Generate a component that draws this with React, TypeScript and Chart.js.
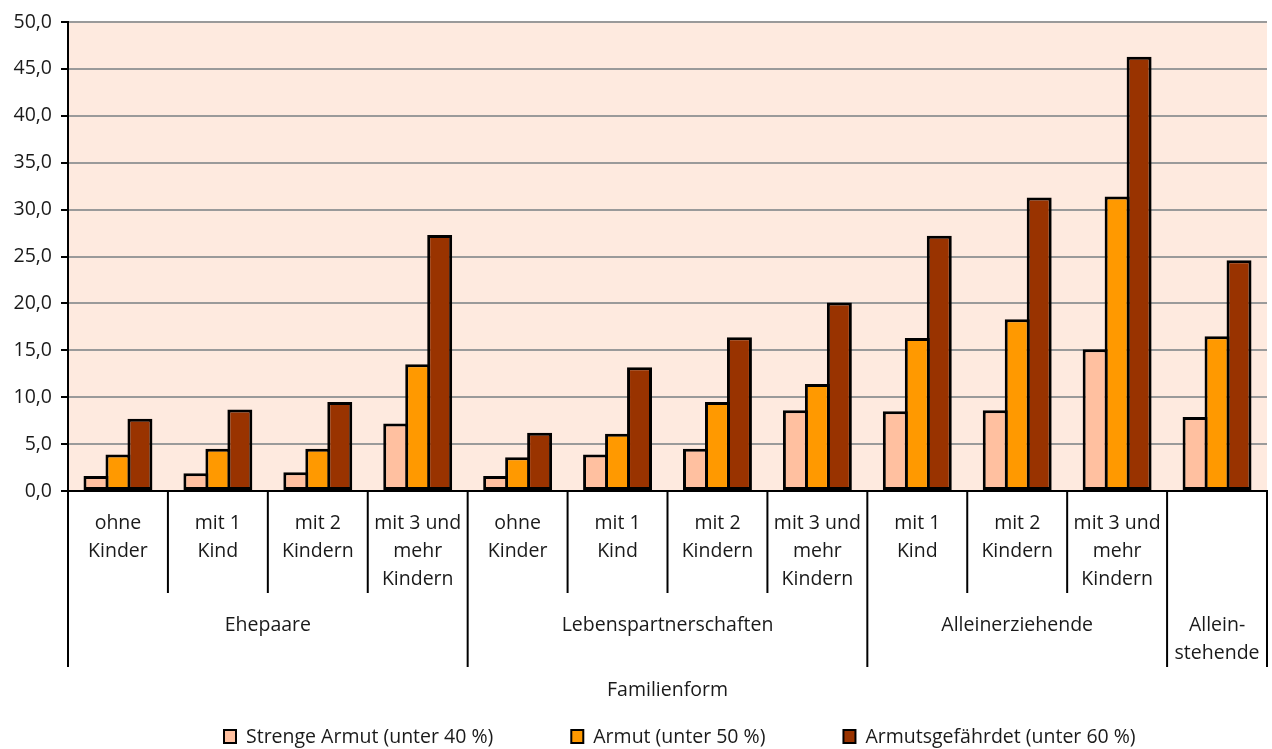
import React, { useEffect, useRef } from "react";
import { Chart, registerables } from "chart.js";

Chart.register(...registerables);

// ---- data ----
const subLabels: string[][] = [
  ["ohne", "Kinder"],
  ["mit 1", "Kind"],
  ["mit 2", "Kindern"],
  ["mit 3 und", "mehr", "Kindern"],
  ["ohne", "Kinder"],
  ["mit 1", "Kind"],
  ["mit 2", "Kindern"],
  ["mit 3 und", "mehr", "Kindern"],
  ["mit 1", "Kind"],
  ["mit 2", "Kindern"],
  ["mit 3 und", "mehr", "Kindern"],
  [],
];
const groupLabels: string[][] = [["Ehepaare"], ["Lebenspartnerschaften"], ["Alleinerziehende"], ["Allein-", "stehende"]];
const groupStarts = [0, 4, 8, 11];
const groupEnds = [3, 7, 10, 11];

const seriesNames = ["Strenge Armut (unter 40 %)", "Armut (unter 50 %)", "Armutsgefährdet (unter 60 %)"];
const strengeArmut = [1.6, 1.9, 2.0, 7.2, 1.6, 3.9, 4.5, 8.6, 8.5, 8.6, 15.1, 7.9];
const armut = [3.9, 4.5, 4.5, 13.5, 3.6, 6.1, 9.5, 11.4, 16.3, 18.3, 31.4, 16.5];
const armutsgefaehrdet = [7.7, 8.7, 9.5, 27.3, 6.2, 13.2, 16.4, 20.1, 27.2, 31.3, 46.3, 24.6];
const axisTitle = "Familienform";

// ---- style ----
const FONT = "'Open Sans', 'Noto Sans', sans-serif";
const FS = 19.5;
const TEXT = "#1a1a1a";
const BG = "#FEEADF";
const COLORS = ["#FFC0A0", "#FF9900", "#993300"];

const decorPlugin = {
  id: "decor",
  beforeDraw(chart: any) {
    const { ctx, chartArea: a } = chart;
    ctx.save();
    ctx.fillStyle = BG;
    ctx.fillRect(a.left, a.top, a.right - a.left, a.bottom - a.top);
    ctx.restore();
  },
  afterDraw(chart: any) {
    const { ctx, chartArea: a } = chart;
    const x = chart.scales.x;
    const n = subLabels.length;
    const step = x.getPixelForValue(1) - x.getPixelForValue(0);
    const boundary = (i: number) =>
      i === 0 ? a.left : i === n ? a.right : x.getPixelForValue(i) - step / 2;

    ctx.save();
    ctx.strokeStyle = "#000";
    ctx.lineWidth = 2;
    for (let i = 0; i <= n; i++) {
      const bx = boundary(i);
      const outer = groupStarts.includes(i) || i === n;
      ctx.beginPath();
      ctx.moveTo(bx, a.bottom);
      ctx.lineTo(bx, a.bottom + (outer ? 176 : 102));
      ctx.stroke();
    }

    ctx.fillStyle = TEXT;
    ctx.font = `${FS}px ${FONT}`;
    ctx.textAlign = "center";
    ctx.textBaseline = "middle";
    subLabels.forEach((lines, i) => {
      const cx = x.getPixelForValue(i);
      lines.forEach((l, j) => ctx.fillText(l, cx, a.bottom + 32 + j * 28));
    });
    groupLabels.forEach((lines, g) => {
      const cx = (boundary(groupStarts[g]) + boundary(groupEnds[g] + 1)) / 2;
      lines.forEach((l, j) => ctx.fillText(l, cx, a.bottom + 134 + j * 28));
    });
    ctx.fillText(axisTitle, (a.left + a.right) / 2, a.bottom + 199);

    // legend
    ctx.textAlign = "left";
    let lx = 224;
    const ly = 737;
    chart.data.datasets.forEach((ds: any) => {
      ctx.fillStyle = ds.backgroundColor;
      ctx.fillRect(lx, ly - 7, 12, 13);
      ctx.lineWidth = 2;
      ctx.strokeStyle = "#000";
      ctx.strokeRect(lx, ly - 7, 12, 13);
      ctx.fillStyle = TEXT;
      ctx.fillText(ds.label, lx + 22, ly);
      lx += 22 + ctx.measureText(ds.label).width + 78;
    });
    ctx.restore();
  },
};

export default function App() {
  const ref = useRef<HTMLCanvasElement | null>(null);
  useEffect(() => {
    if (!ref.current) return;
    const chart = new Chart(ref.current, {
      type: "bar",
      data: {
        labels: subLabels.map((l, i) => l.join(" ") || String(i)),
        datasets: [strengeArmut, armut, armutsgefaehrdet].map((d, i) => ({
          label: seriesNames[i],
          data: d,
          backgroundColor: COLORS[i],
          borderColor: "#000",
          borderWidth: 3,
          borderSkipped: false,
          categoryPercentage: 0.66,
          barPercentage: 1.136,
        })),
      },
      options: {
        animation: false,
        responsive: true,
        maintainAspectRatio: false,
        layout: { padding: { top: 22, right: 5, left: 0, bottom: 0 } },
        plugins: { legend: { display: false }, tooltip: { enabled: false } },
        scales: {
          x: {
            grid: { display: false, drawTicks: false },
            ticks: { display: false },
            border: { display: true, color: "#000", width: 2 },
            afterFit: (s: any) => {
              s.height = 258;
            },
          },
          y: {
            min: 0,
            max: 50,
            ticks: {
              stepSize: 5,
              padding: 9,
              color: TEXT,
              font: { family: FONT, size: FS },
              callback: (v: any) => Number(v).toFixed(1).replace(".", ","),
            },
            grid: { color: "#9a9a9a", lineWidth: 2, tickColor: "#000", tickLength: 7, drawTicks: true },
            border: { display: true, color: "#000", width: 2 },
            afterFit: (s: any) => {
              s.width = 68;
            },
          },
        },
      },
      plugins: [decorPlugin],
    });
    return () => chart.destroy();
  }, []);
  return (
    <div style={{ position: "absolute", left: 0, top: 0, width: 1272, height: 749 }}>
      <canvas ref={ref} />
    </div>
  );
}
